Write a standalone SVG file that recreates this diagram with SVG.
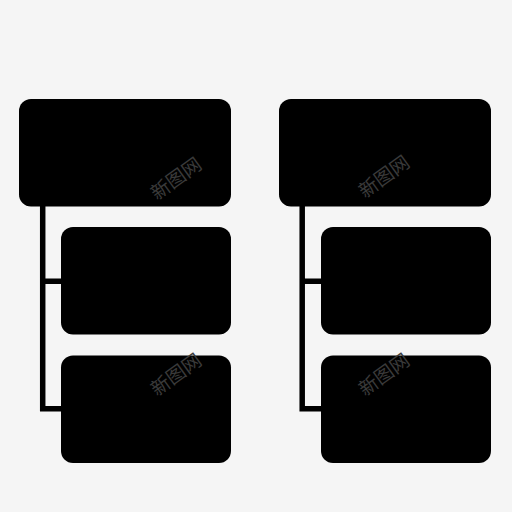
<svg xmlns="http://www.w3.org/2000/svg" width="512" height="512" viewBox="0 0 512 512">
<style>
.box{fill:#000}
.conn{fill:none;stroke:#000;stroke-width:5.5;stroke-linejoin:miter}
.wm{font-family:"Noto Sans CJK SC","Noto Sans",sans-serif;font-size:19px;fill:#3a3a3a;text-anchor:middle}
</style>
<rect width="512" height="512" fill="#f5f5f5"/>
<g id="connectors">
<path class="conn" d="M42.7 206 V408.7 H62 M42.7 281.2 H62"/>
<path class="conn" d="M302.2 206 V408.7 H322 M302.2 281.2 H322"/>
</g>
<g id="left-top"><rect class="box" x="19" y="99" width="212" height="107.5" rx="12"/></g>
<g id="left-mid"><rect class="box" x="61" y="227" width="170" height="107.5" rx="12"/></g>
<g id="left-bot"><rect class="box" x="61" y="355.5" width="170" height="107.5" rx="12"/></g>
<g id="right-top"><rect class="box" x="279" y="99" width="212" height="107.5" rx="12"/></g>
<g id="right-mid"><rect class="box" x="321" y="227" width="170" height="107.5" rx="12"/></g>
<g id="right-bot"><rect class="box" x="321" y="355.5" width="170" height="107.5" rx="12"/></g>
<g id="watermarks">
<text class="wm" transform="translate(180 184) rotate(-36)">新图网</text>
<text class="wm" transform="translate(180 380) rotate(-36)">新图网</text>
<text class="wm" transform="translate(388 182) rotate(-36)">新图网</text>
<text class="wm" transform="translate(388 380) rotate(-36)">新图网</text>
</g>
</svg>
